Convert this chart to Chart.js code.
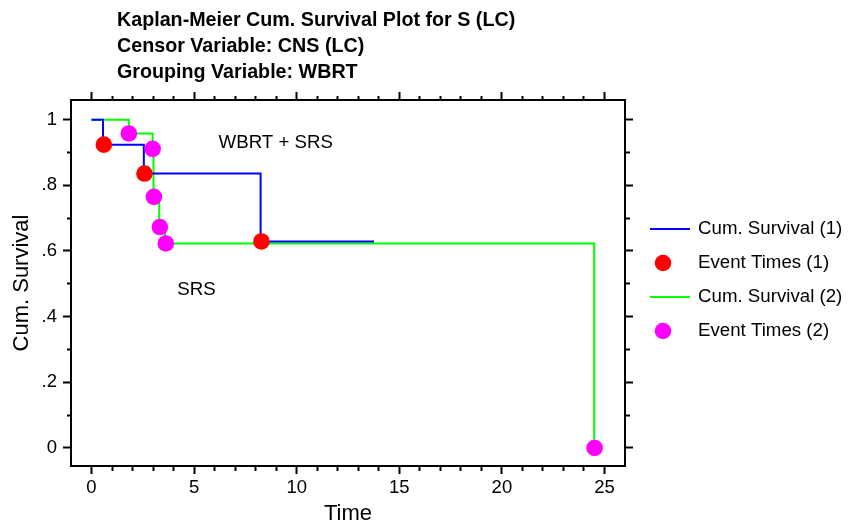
<!DOCTYPE html>
<html>
<head>
<meta charset="utf-8">
<script src="https://cdn.jsdelivr.net/npm/chart.js@4.4.1/dist/chart.umd.min.js"></script>
<style>
  body { margin: 0; background: #fff; }
  canvas { display: block; }
</style>
</head>
<body>
<canvas id="km" width="858" height="526"></canvas>
<script>
// Group 1 (WBRT + SRS) step curve and event marks
const survTimes1 = [0, 0.56, 2.55, 8.24, 13.77];
const survVals1 = [1, 0.924, 0.836, 0.629, 0.629];
const eventTimes1 = [0.6, 2.58, 8.28];
const eventVals1 = [0.924, 0.836, 0.629];

// Group 2 (SRS)
const survTimes2 = [0, 1.82, 2.98, 3.02, 3.3, 3.58, 24.5];
const survVals2 = [1, 0.958, 0.911, 0.765, 0.673, 0.623, 0];
const eventTimes2 = [1.82, 2.98, 3.04, 3.33, 3.62, 24.52];
const eventVals2 = [0.958, 0.911, 0.765, 0.673, 0.623, 0];

// axes
const xTicks = [0, 1, 2, 3, 4, 5, 6, 7, 8, 9, 10, 11, 12, 13, 14, 15, 16, 17, 18, 19, 20, 21, 22, 23, 24, 25];
const xMajor = [0, 5, 10, 15, 20, 25];
const yTicks = [0, 0.1, 0.2, 0.3, 0.4, 0.5, 0.6, 0.7, 0.8, 0.9, 1];
const yLabels = ['0', '', '.2', '', '.4', '', '.6', '', '.8', '', '1'];

const titleLines = [
  'Kaplan-Meier Cum. Survival Plot for S (LC)',
  'Censor Variable: CNS (LC)',
  'Grouping Variable: WBRT'
];
const notes = [
  { text: 'WBRT + SRS', x: 8.98, y: 0.93 },
  { text: 'SRS', x: 5.12, y: 0.483 }
];
const legendNames = ['Cum. Survival (1)', 'Event Times (1)', 'Cum. Survival (2)', 'Event Times (2)'];

const FONT = '"Liberation Sans", Arial, Helvetica, sans-serif';
Chart.defaults.font.family = FONT;
Chart.defaults.font.size = 18.5;
Chart.defaults.color = '#000';

function pts(xs, ys) {
  return xs.map((x, i) => ({ x: x, y: ys[i] }));
}

// minor ticks get drawn shorter with a dash; "outer" = line starts at the far end
function tickDash(outer, isMajor) {
  return ctx => {
    if (!ctx.tick || isMajor(ctx.tick.value)) return [];
    return outer ? [0, 4, 4, 100] : [4, 100];
  };
}
const isMajorX = v => xMajor.indexOf(v) >= 0;
const isMajorY = v => Math.abs(v * 5 - Math.round(v * 5)) < 1e-6;

function gridOpts(outer, isMajor) {
  return {
    display: true,
    drawOnChartArea: false,
    drawTicks: true,
    tickLength: 8,
    tickColor: '#000',
    tickWidth: 2,
    tickBorderDash: tickDash(outer, isMajor)
  };
}
const border = { display: true, color: '#000', width: 2 };
const axisTitleFont = { size: 22, lineHeight: 1 };

const decor = {
  id: 'decor',
  afterDraw(chart) {
    const c = chart.ctx;
    const xs = chart.scales.x, ys = chart.scales.y;
    c.save();
    c.fillStyle = '#000';
    c.textBaseline = 'middle';
    c.textAlign = 'left';
    c.font = 'bold 19.7px ' + FONT;
    titleLines.forEach((t, i) => c.fillText(t, 117, 21 + i * 26));

    c.font = '18.7px ' + FONT;
    c.textAlign = 'center';
    notes.forEach(n => c.fillText(n.text, xs.getPixelForValue(n.x), ys.getPixelForValue(n.y)));

    // legend
    c.textAlign = 'left';
    chart.data.datasets.forEach((ds, i) => {
      const y = 229 + i * 34;
      if (ds.showLine === false) {
        c.beginPath();
        c.fillStyle = ds.pointBackgroundColor;
        c.arc(663, y, 8.3, 0, Math.PI * 2);
        c.fill();
      } else {
        c.beginPath();
        c.strokeStyle = ds.borderColor;
        c.lineWidth = 2;
        c.moveTo(650, y);
        c.lineTo(690, y);
        c.stroke();
      }
      c.fillStyle = '#000';
      c.fillText(legendNames[i], 698, y);
    });
    c.restore();
  }
};

new Chart(document.getElementById('km'), {
  type: 'line',
  data: {
    datasets: [
      {
        data: pts(survTimes1, survVals1),
        borderColor: '#0000ff',
        borderWidth: 2,
        stepped: true,
        pointRadius: 0,
        fill: false,
        order: 2
      },
      {
        data: pts(eventTimes1, eventVals1),
        showLine: false,
        pointRadius: 8.3,
        pointBackgroundColor: '#ff0000',
        pointBorderWidth: 0,
        order: 1
      },
      {
        data: pts(survTimes2, survVals2),
        borderColor: '#00ff00',
        borderWidth: 2,
        stepped: true,
        pointRadius: 0,
        fill: false,
        order: 3
      },
      {
        data: pts(eventTimes2, eventVals2),
        showLine: false,
        pointRadius: 8.3,
        pointBackgroundColor: '#ff00ff',
        pointBorderWidth: 0,
        order: 0
      }
    ]
  },
  options: {
    responsive: false,
    animation: false,
    devicePixelRatio: 1,
    layout: { padding: { left: 0, right: 0, top: 88, bottom: 0 } },
    plugins: {
      legend: { display: false },
      tooltip: { enabled: false },
      title: { display: false }
    },
    scales: {
      x: {
        type: 'linear',
        position: 'bottom',
        min: -1,
        max: 26,
        afterBuildTicks: s => { s.ticks = xTicks.map(v => ({ value: v })); },
        afterFit: s => { s.height = 60; },
        ticks: {
          padding: 3,
          autoSkip: false,
          maxRotation: 0,
          callback: v => (isMajorX(v) ? String(v) : '')
        },
        grid: gridOpts(false, isMajorX),
        border: border,
        title: { display: true, text: 'Time', font: axisTitleFont, padding: { top: 0, bottom: 1 } }
      },
      x2: {
        type: 'linear',
        position: 'top',
        min: -1,
        max: 26,
        afterBuildTicks: s => { s.ticks = xTicks.map(v => ({ value: v })); },
        afterFit: s => { s.height = 12; },
        ticks: { display: false },
        grid: gridOpts(true, isMajorX),
        border: border
      },
      y: {
        type: 'linear',
        position: 'left',
        min: -0.055,
        max: 1.06,
        afterBuildTicks: s => { s.ticks = yTicks.map(v => ({ value: v })); },
        afterFit: s => { s.width = 71; },
        ticks: {
          padding: 6,
          autoSkip: false,
          callback: (v, i) => yLabels[i]
        },
        grid: gridOpts(true, isMajorY),
        border: border,
        title: { display: true, text: 'Cum. Survival', font: axisTitleFont, padding: { top: 11, bottom: 0 } }
      },
      y2: {
        type: 'linear',
        position: 'right',
        min: -0.055,
        max: 1.06,
        afterBuildTicks: s => { s.ticks = yTicks.map(v => ({ value: v })); },
        afterFit: s => { s.width = 233; },
        ticks: { display: false },
        grid: gridOpts(false, isMajorY),
        border: border
      }
    }
  },
  plugins: [decor]
});
</script>
</body>
</html>
